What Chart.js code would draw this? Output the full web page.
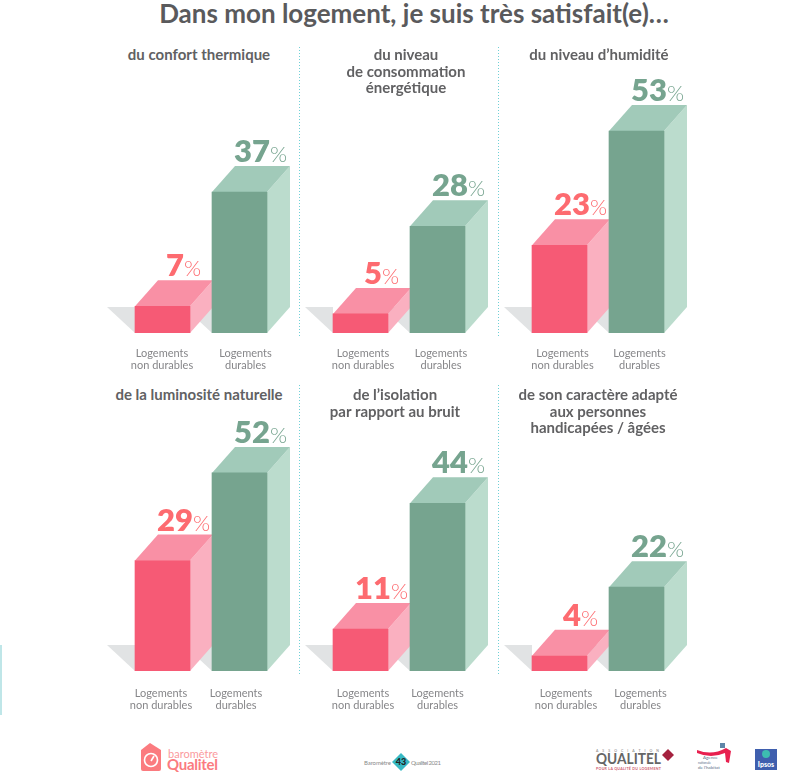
<!DOCTYPE html>
<html lang="fr">
<head>
<meta charset="utf-8">
<title>Baromètre Qualitel</title>
<script src="https://cdn.jsdelivr.net/npm/chart.js@4/dist/chart.umd.min.js"></script>
<style>
    html, body { margin: 0; padding: 0; background: #fff; }
    #page { position: relative; width: 800px; height: 773px; overflow: hidden; font-family: 'Lato', sans-serif; }
    #page canvas { position: absolute; }
    h1 { position: absolute; left: 0; width: 828px; top: -2px; margin: 0; text-align: center; font-size: 26px; line-height: 30px; font-weight: 700; color: #5a5a5c; }
    .panelTitle { position: absolute; width: 200px; text-align: center; font-size: 15px; line-height: 16.5px; font-weight: 700; color: #616163; }
    .dots { position: absolute; width: 1px; background: repeating-linear-gradient(#6fd0d6 0 1px, transparent 1px 3px); }
    #edge { position: absolute; left: 0; top: 645px; width: 2px; height: 70px; background: #bfe6e8; }
    #footer { position: absolute; left: 0; top: 735px; }
</style>
</head>
<body>
<div id="page">
    <h1>Dans mon logement, je suis très satisfait(e)…</h1>
    <div id="edge"></div>
    <div class="dots" style="left:299px;top:47px;height:289px"></div>
    <div class="dots" style="left:498px;top:47px;height:289px"></div>
    <div class="dots" style="left:299px;top:385px;height:289px"></div>
    <div class="dots" style="left:498px;top:385px;height:289px"></div>

    <svg id="footer" width="800" height="38" viewBox="0 0 800 38">
        <path d="M150 8 L161 15 V34 Q161 36 159 36 H143 Q141 36 141 34 V15 Z" fill="#fb7b7f"/>
        <circle cx="151" cy="25" r="6.5" fill="none" stroke="#fff" stroke-width="1.6"/>
        <line x1="151" y1="26" x2="154" y2="21" stroke="#fff" stroke-width="1.6"/>
        <text x="168" y="23" font-family="Lato" font-size="11" textLength="50" fill="#fb9a9d">baromètre</text>
        <text x="167" y="35" font-family="Lato" font-size="15" font-weight="700" textLength="51" fill="#fb7b7f">Qualitel</text>

        <text x="364" y="30" font-family="Lato" font-size="6" textLength="27" fill="#8a8a8a">Baromètre</text>
        <polygon points="401,18 410,27 401,36 392,27" fill="#37b9c4"/>
        <text x="401" y="30" text-anchor="middle" font-family="Lato" font-size="9" font-weight="900" fill="#222">43</text>
        <text x="411" y="30" font-family="Lato" font-size="6" textLength="30" fill="#8a8a8a">Qualitel 2021</text>

        <text x="596" y="16.5" font-family="Lato" font-size="3.5" textLength="63" fill="#777">ASSOCIATION</text>
        <text x="596" y="29" font-family="Lato" font-size="15.5" font-weight="700" textLength="65" lengthAdjust="spacingAndGlyphs" fill="#666">QUALITEL</text>
        <polygon points="668,14 674,20 668,26 662,20" fill="#a5223f"/>
        <text x="596" y="34.5" font-family="Lato" font-size="3.6" font-weight="700" textLength="65" fill="#d0606f">POUR LA QUALITÉ DU LOGEMENT</text>

        <rect x="720" y="8" width="5" height="5" fill="#5f86a8"/>
        <path d="M697 15 Q712 21 726 13 L731 16 L729 28 L726 27 L725 18 Q711 24 697 18 Z" fill="#e8204f"/>
        <text x="703" y="24" font-family="Lato" font-size="4.5" fill="#5b6f8a">Agence</text>
        <text x="698" y="29" font-family="Lato" font-size="3.2" fill="#5b6f8a">nationale</text>
        <text x="698" y="34" font-family="Lato" font-size="4.5" fill="#5b6f8a">de l'habitat</text>

        <rect x="755" y="14" width="22" height="21" fill="#3f5fae"/>
        <circle cx="766" cy="19" r="4" fill="#3dbdb0"/>
        <text x="766" y="32" text-anchor="middle" font-family="Lato" font-size="7" font-weight="900" fill="#fff">Ipsos</text>
    </svg>
</div>

<script>
const categories = ['Logements non durables', 'Logements durables'];
const tickLines = [['Logements', 'non durables'], ['Logements', 'durables']];

const panelTitles = [
    ['du confort thermique'],
    ['du niveau', 'de consommation', 'énergétique'],
    ['du niveau d\u2019humidité'],
    ['de la luminosité naturelle'],
    ['de l\u2019isolation', 'par rapport au bruit'],
    ['de son caractère adapté', 'aux personnes', 'handicapées / âgées']
];

const nonDurables = [7, 5, 23, 29, 11, 4];
const durables = [37, 28, 53, 52, 44, 22];

// placement of each small chart on the page
const panelLeft = [124, 322, 521, 124, 322, 521];
const panelTop = [40, 40, 40, 378, 378, 378];
const titleCenter = [199, 406, 599, 199, 395, 598];
const titleTop = [46, 46, 46, 386, 386, 386];
const tickShift = [[-0.5, 6], [2.5, 3.5], [3, 3], [-1.5, -3.5], [2.5, 0], [6.5, 4]];
const tickGap = [24, 24, 24, 26, 26, 26];

const chartWidth = 214;
const chartHeight = 340;
const sidePadding = 30;
const axisHeight = 47;
const pxPerPercent = 3.81;
const depthX = 23;
const depthY = 26;

const pink = { front: '#f65a75', side: '#fab0c0', top: '#f990a5', text: '#fd6b70' };
const green = { front: '#76a48f', side: '#bbdccd', top: '#a1cab9', text: '#76a48f' };
const barColors = [pink, green];

function face(ctx, points, color) {
    ctx.fillStyle = color;
    ctx.beginPath();
    points.forEach(([x, y], i) => i ? ctx.lineTo(x, y) : ctx.moveTo(x, y));
    ctx.closePath();
    ctx.fill();
}

// the 3D faces and the labels hang on the bars the library has placed
const boxPlugin = {
    id: 'box3d',
    beforeDatasetsDraw(chart) {
        const ctx = chart.ctx;
        const bars = chart.getDatasetMeta(0).data;
        bars.forEach(bar => {
            const left = bar.x - bar.width / 2;
            face(ctx, [[left - 28, bar.base - depthY], [left, bar.base - depthY], [left, bar.base]], '#e1e3e4');
        });
        bars.forEach((bar, i) => {
            const left = bar.x - bar.width / 2;
            const right = bar.x + bar.width / 2;
            const base = bar.base;
            face(ctx, [[right, bar.y], [right + depthX, bar.y - depthY], [right + depthX, base - depthY], [right, base]], barColors[i].side);
            face(ctx, [[left, bar.y], [left + depthX, bar.y - depthY], [right + depthX, bar.y - depthY], [right, bar.y]], barColors[i].top);
        });
    },
    afterDatasetsDraw(chart, args, opts) {
        const ctx = chart.ctx;
        const bars = chart.getDatasetMeta(0).data;
        const values = chart.data.datasets[0].data;
        ctx.save();
        bars.forEach((bar, i) => {
            // value and percent sign, centred over the box
            const num = String(values[i]);
            ctx.font = '800 31px Lato';
            const numW = ctx.measureText(num).width;
            ctx.font = '300 22px Lato';
            const pctW = ctx.measureText('%').width;
            const startX = bar.x + 21 - (numW + pctW) / 2;
            const y = bar.y - depthY - 4;
            ctx.textAlign = 'left';
            ctx.textBaseline = 'alphabetic';
            ctx.fillStyle = barColors[i].text;
            ctx.font = '800 31px Lato';
            ctx.fillText(num, startX, y);
            ctx.font = '300 22px Lato';
            ctx.fillText('%', startX + numW, y);

            // category label under the bar
            ctx.textAlign = 'center';
            ctx.fillStyle = '#868689';
            ctx.font = '400 11px Lato';
            tickLines[i].forEach((line, n) => {
                ctx.fillText(line, bar.x + opts.shift[i], bar.base + opts.gap + n * 12);
            });
        });
        ctx.restore();
    }
};

const page = document.getElementById('page');

nonDurables.forEach((value, p) => {
    const head = document.createElement('div');
    head.className = 'panelTitle';
    head.style.left = (titleCenter[p] - 100) + 'px';
    head.style.top = titleTop[p] + 'px';
    head.innerHTML = panelTitles[p].join('<br>');
    page.appendChild(head);

    const canvas = document.createElement('canvas');
    canvas.width = chartWidth;
    canvas.height = chartHeight;
    canvas.style.left = (panelLeft[p] - sidePadding) + 'px';
    canvas.style.top = panelTop[p] + 'px';
    canvas.style.width = chartWidth + 'px';
    canvas.style.height = chartHeight + 'px';
    page.appendChild(canvas);

    new Chart(canvas.getContext('2d'), {
        type: 'bar',
        data: {
            labels: categories,
            datasets: [{
                data: [value, durables[p]],
                backgroundColor: barColors.map(c => c.front),
                borderWidth: 0,
                barThickness: 55
            }]
        },
        plugins: [boxPlugin],
        options: {
            responsive: false,
            animation: false,
            devicePixelRatio: 1,
            layout: { padding: { left: sidePadding, right: sidePadding, top: 0, bottom: 0 } },
            scales: {
                x: {
                    grid: { display: false },
                    border: { display: false },
                    ticks: { display: false },
                    afterFit(scale) { scale.height = axisHeight; }
                },
                y: {
                    display: false,
                    min: 0,
                    max: (chartHeight - axisHeight) / pxPerPercent
                }
            },
            plugins: {
                legend: { display: false },
                tooltip: { enabled: false },
                box3d: { shift: tickShift[p], gap: tickGap[p] }
            }
        }
    });
});
</script>
</body>
</html>
